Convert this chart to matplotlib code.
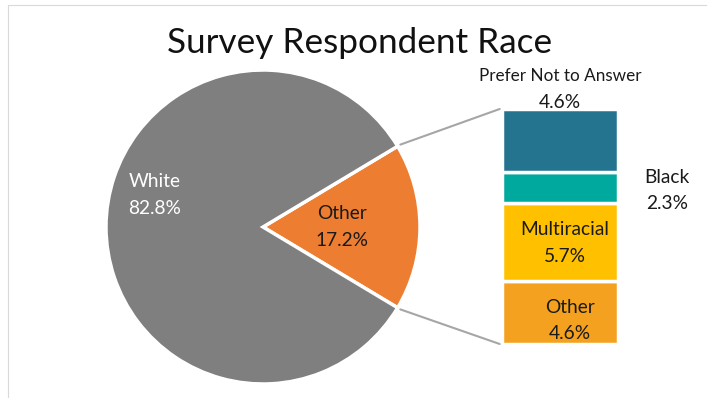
import matplotlib.pyplot as plt
from matplotlib.patches import ConnectionPatch, Rectangle
import numpy as np

plt.rcParams['font.family'] = ['Lato', 'DejaVu Sans']

# pie: main split
pie_labels = ['Other', 'White']
pie_values = [17.2, 82.8]
pie_colors = ['#ED7D31', '#7F7F7F']

# bar: breakdown of "Other", bottom to top
bar_labels = ['Other', 'Multiracial', 'Black', 'Prefer Not to Answer']
bar_values = [4.6, 5.7, 2.3, 4.6]
bar_colors = ['#F4A11F', '#FFC000', '#00A99D', '#24738F']

fig = plt.figure(figsize=(7.07, 3.98), dpi=100)

# light frame around the chart area
fig.add_artist(Rectangle((7.5 / 707, -0.1), 1.2, 1.1 - 5.5 / 398,
                         transform=fig.transFigure, fill=False,
                         edgecolor='#D9D9D9', linewidth=0.8))

fig.text(0.509, 0.893, 'Survey Respondent Race', ha='center', va='center',
         fontsize=25.3, color='#111111')

# ---- pie ----
ax_pie = fig.add_axes([106 / 707, 14 / 398, 314 / 707, 314 / 398])
start = -pie_values[0] / 100 * 360 / 2
wedges, _ = ax_pie.pie(pie_values, colors=pie_colors, startangle=start,
                       counterclock=True, radius=1,
                       wedgeprops=dict(edgecolor='white', linewidth=2.5))
ax_pie.set_xlim(-1, 1)
ax_pie.set_ylim(-1, 1)
ax_pie.set_aspect('equal')
ax_pie.axis('off')

txt_kw = dict(ha='center', va='center', fontsize=13.8, linespacing=1.65)
ax_pie.text(-0.69, 0.204, f'{pie_labels[1]}\n{pie_values[1]}%', color='white', **txt_kw)
ax_pie.text(0.503, 0.0, f'{pie_labels[0]}\n{pie_values[0]}%', color='#1A1A1A', **txt_kw)

# ---- stacked bar ----
ax_bar = fig.add_axes([502 / 707, 54 / 398, 116 / 707, 235 / 398])
total = sum(bar_values)
bottom = 0
for lab, val, col in zip(bar_labels, bar_values, bar_colors):
    ax_bar.bar(0, val, width=1, bottom=bottom, color=col,
               edgecolor='white', linewidth=2.5)
    bottom += val
ax_bar.set_xlim(-0.5, 0.5)
ax_bar.set_ylim(0, total)
ax_bar.axis('off')

cum = np.cumsum([0] + bar_values)
mid = (cum[:-1] + cum[1:]) / 2
# Other, Multiracial inside the bar
ax_bar.text(0.086, mid[0] - 0.6, f'{bar_labels[0]}\n{bar_values[0]}%', color='#1A1A1A', **txt_kw)
ax_bar.text(0.043, mid[1] - 0.06, f'{bar_labels[1]}\n{bar_values[1]}%', color='#1A1A1A', **txt_kw)
# Black to the right
ax_bar.text(0.92, mid[2] - 0.2, f'{bar_labels[2]}\n{bar_values[2]}%', color='#1A1A1A', **txt_kw)
# Prefer Not to Answer above
ax_bar.text(0.0, total + 0.45, f'{bar_values[3]}%', ha='center', va='center',
            color='#1A1A1A', fontsize=13.8)
ax_bar.text(0.0, total + 2.42, bar_labels[3], ha='center', va='center',
            color='#1A1A1A', fontsize=12.3)

# connector lines from the pie slice edges to the bar
theta = np.deg2rad(pie_values[0] / 100 * 360 / 2)
for sign, ybar in [(1, total), (-1, 0)]:
    xy_pie = (1.02 * np.cos(theta), sign * 1.02 * np.sin(theta))
    con = ConnectionPatch(xyA=(-0.52, ybar), coordsA=ax_bar.transData,
                          xyB=xy_pie, coordsB=ax_pie.transData,
                          color='#A6A6A6', linewidth=1.5)
    fig.add_artist(con)

fig.savefig('out.png', dpi=100)
